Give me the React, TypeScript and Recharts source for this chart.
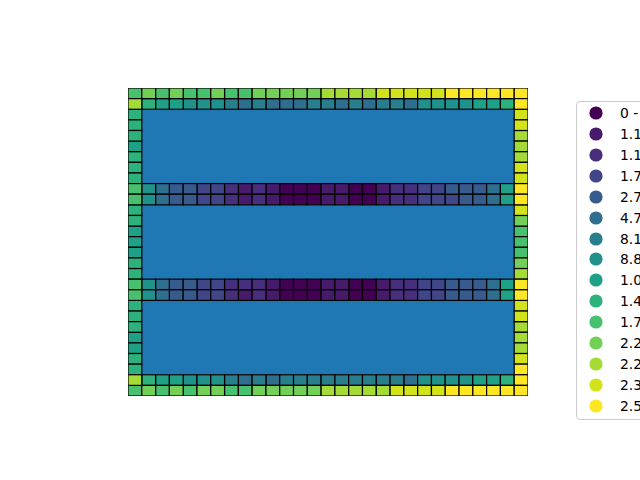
import React from 'react';
import { ScatterChart, Scatter, XAxis, YAxis, ReferenceArea } from 'recharts';

// ---------- data ----------
const GRID = 29;

const classColors = [
  '#440154', '#481a6c', '#472f7d', '#404688', '#375b8d',
  '#2e6e8e', '#277f8e', '#21918c', '#1fa188', '#2db27d',
  '#48c16e', '#73d056', '#a5db36', '#d2e21b', '#fde725',
];

const legendLabels = [
  '0 - 1.1e+01', '1.1e+01 - 1.1e+02', '1.1e+02 - 1.7e+02', '1.7e+02 - 2.7e+02',
  '2.7e+02 - 4.7e+02', '4.7e+02 - 8.1e+02', '8.1e+02 - 8.8e+02', '8.8e+02 - 1.0e+03',
  '1.0e+03 - 1.4e+03', '1.4e+03 - 1.7e+03', '1.7e+03 - 2.2e+03', '2.2e+03 - 2.2e+03',
  '2.2e+03 - 2.3e+03', '2.3e+03 - 2.5e+03', '2.5e+03 - 2.6e+03',
];

// class index of each cell, full-width rows
const row0 = [10, 11, 10, 11, 10, 10, 11, 10, 10, 11, 11, 11, 11, 11, 12, 12, 12, 12, 13, 13, 13, 13, 13, 14, 14, 14, 14, 14, 14];
const row1 = [12, 9, 8, 8, 7, 7, 7, 6, 5, 6, 5, 5, 5, 6, 6, 5, 6, 5, 6, 6, 5, 7, 7, 7, 7, 8, 8, 9, 14];
const row9 = [10, 7, 5, 4, 4, 3, 3, 2, 1, 2, 1, 0, 0, 0, 1, 1, 0, 0, 1, 2, 2, 3, 3, 4, 4, 4, 5, 8, 14];
const row10 = [10, 7, 5, 4, 4, 3, 3, 2, 1, 2, 1, 0, 0, 0, 1, 1, 0, 0, 1, 2, 2, 3, 3, 3, 4, 4, 5, 8, 14];
const row18 = [10, 7, 5, 4, 4, 3, 3, 2, 2, 2, 1, 0, 0, 0, 1, 1, 0, 0, 1, 2, 2, 3, 3, 4, 4, 4, 5, 8, 14];
const row19 = [10, 7, 5, 4, 4, 3, 3, 2, 1, 2, 1, 0, 0, 0, 1, 1, 0, 0, 1, 2, 2, 3, 3, 4, 4, 4, 5, 8, 14];
const row27 = [12, 9, 8, 8, 7, 7, 7, 6, 5, 6, 5, 6, 6, 6, 6, 6, 6, 6, 6, 6, 5, 7, 7, 7, 7, 8, 8, 9, 14];
const row28 = [10, 11, 10, 11, 10, 11, 11, 10, 10, 11, 11, 11, 11, 11, 12, 12, 12, 12, 12, 13, 13, 13, 13, 14, 14, 14, 14, 14, 14];

// side columns (row 0..28)
const leftColumn = [10, 12, 9, 9, 9, 8, 9, 9, 9, 10, 10, 9, 9, 8, 8, 8, 9, 9, 10, 10, 9, 9, 9, 8, 8, 9, 9, 12, 10];
const rightColumn = [14, 14, 13, 13, 12, 12, 12, 13, 13, 14, 14, 13, 11, 10, 10, 10, 11, 12, 14, 14, 13, 13, 12, 12, 12, 13, 14, 14, 14];

const fullRowIndex = [0, 1, 9, 10, 18, 19, 27, 28];
const fullRowValues = [row0, row1, row9, row10, row18, row19, row27, row28];

// solid blocks (grid units)
const blockX = [1, 28];
const blockRows = [[2, 9], [11, 18], [20, 27]];

type Cell = { x: number; y: number; cls: number };

function buildCells(): Cell[] {
  const cells: Cell[] = [];
  for (let r = 0; r < GRID; r++) {
    const fi = fullRowIndex.indexOf(r);
    if (fi >= 0) {
      fullRowValues[fi].forEach((cls, c) => cells.push({ x: c + 0.5, y: r + 0.5, cls }));
    } else {
      cells.push({ x: 0.5, y: r + 0.5, cls: leftColumn[r] });
      cells.push({ x: GRID - 0.5, y: r + 0.5, cls: rightColumn[r] });
    }
  }
  return cells;
}

const cells = buildCells();

// ---------- layout ----------
const W = 640;
const H = 480;
const M = { top: 88, left: 128, right: 112, bottom: 84 };
const CW = (W - M.left - M.right) / GRID;
const CH = (H - M.top - M.bottom) / GRID;
const ROW_H = 20.93;

const makeShape = (color: string) => (props: any) => {
  const { cx, cy } = props;
  if (cx == null || cy == null) return <g />;
  return (
    <rect
      x={cx - CW / 2}
      y={cy - CH / 2}
      width={CW}
      height={CH}
      fill={color}
      stroke="#000"
      strokeWidth={1.2}
    />
  );
};

const FONT = '"DejaVu Sans", sans-serif';

export default function App() {
  return (
    <div style={{ position: 'relative', width: W, height: H, overflow: 'hidden', background: '#fff' }}>
      <style>{'html,body{margin:0;padding:0;overflow:hidden;}'}</style>
      <ScatterChart width={W} height={H} margin={M}>
        <XAxis type="number" dataKey="x" domain={[0, GRID]} hide allowDataOverflow />
        <YAxis type="number" dataKey="y" domain={[0, GRID]} reversed hide allowDataOverflow />
        {blockRows.map((br, i) => (
          <ReferenceArea
            key={`b${i}`}
            x1={blockX[0]}
            x2={blockX[1]}
            y1={br[0]}
            y2={br[1]}
            fill="#1f77b4"
            fillOpacity={1}
            stroke="none"
            ifOverflow="visible"
          />
        ))}
        {classColors.map((color, k) => (
          <Scatter
            key={`s${k}`}
            name={legendLabels[k]}
            data={cells.filter((c) => c.cls === k)}
            fill={color}
            shape={makeShape(color)}
            isAnimationActive={false}
          />
        ))}
      </ScatterChart>
      <div
        style={{
          position: 'absolute',
          left: 576,
          top: 101,
          width: 110,
          height: 319,
          border: '1px solid #cccccc',
          borderRadius: 4,
          background: 'rgba(255,255,255,0.8)',
          boxSizing: 'border-box',
          paddingTop: 1,
        }}
      >
        {legendLabels.map((lab, k) => (
          <div
            key={`l${k}`}
            style={{ position: 'relative', height: ROW_H, whiteSpace: 'nowrap' }}
          >
            <svg width={16} height={16} style={{ position: 'absolute', left: 11, top: 2 }}>
              <circle cx={8} cy={8} r={6.6} fill={classColors[k]} />
            </svg>
            <span
              style={{
                position: 'absolute',
                left: 43,
                top: 2,
                fontFamily: FONT,
                fontSize: 13.9,
                lineHeight: '16px',
                color: '#000',
              }}
            >
              {lab}
            </span>
          </div>
        ))}
      </div>
    </div>
  );
}
